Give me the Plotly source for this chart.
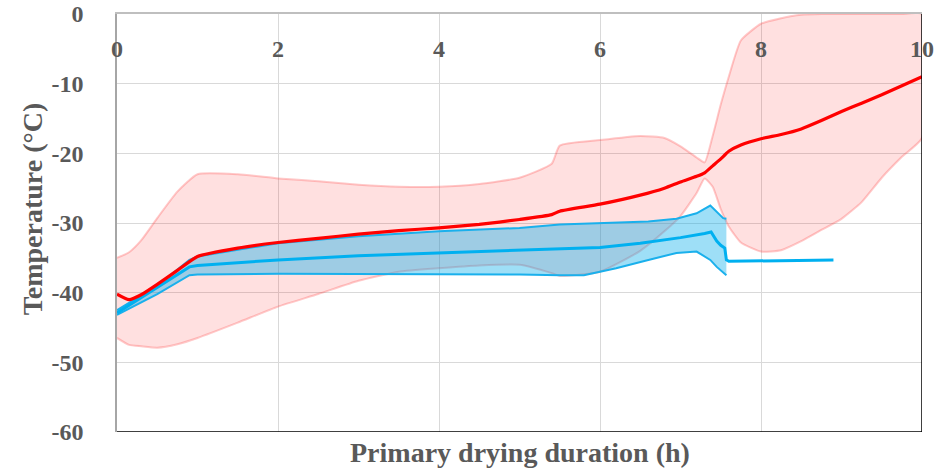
import plotly.graph_objects as go

# Product temperature during primary drying: mean and spread for two groups
red_x = [0, 0.15, 0.3, 0.5, 0.75, 1, 1.5, 2, 2.5, 3, 3.5, 4, 4.5, 5, 5.4, 5.5,
         6, 6.5, 6.8, 7, 7.2, 7.3, 7.4, 7.5, 7.6, 7.75, 8, 8.25, 8.5, 8.75,
         9, 9.25, 9.5, 9.75, 10]
red_mean = [-40.2, -41.0, -40.3, -38.8, -36.8, -34.8, -33.6, -32.8, -32.2, -31.6,
            -31.1, -30.7, -30.2, -29.5, -28.8, -28.3, -27.3, -26.0, -25.0, -24.1,
            -23.3, -22.8, -21.8, -20.8, -19.7, -18.8, -17.9, -17.3, -16.5, -15.3,
            -14.0, -12.8, -11.6, -10.3, -9.0]
red_upper = [-35.0, -34.2, -32.5, -29.3, -25.5, -23.0, -23.0, -23.6, -24.0, -24.5,
             -24.8, -24.8, -24.4, -23.5, -21.5, -18.9, -18.1, -17.5, -17.8, -19.0,
             -20.6, -21.3, -17.5, -13.0, -9.0, -3.8, -1.4, -0.6, -0.1, 0.0,
             0.0, 0.0, 0.0, 0.0, 0.0]
red_lower = [-46.5, -47.5, -47.7, -47.9, -47.4, -46.5, -44.3, -42.0, -40.2, -38.3,
             -37.0, -36.5, -36.1, -36.0, -37.2, -37.6, -37.0, -34.0, -31.2, -29.0,
             -25.7, -23.6, -24.8, -28.0, -30.5, -32.8, -34.1, -33.9, -32.6, -31.0,
             -29.4, -27.0, -23.5, -20.5, -17.8]

blue_x = [0, 0.5, 0.9, 1, 2, 3, 4, 5, 5.5, 5.8, 6, 6.2, 6.6, 6.95, 7.2, 7.37,
          7.45, 7.53, 7.57]
blue_upper = [-42.5, -39.0, -35.3, -34.8, -32.9, -31.9, -31.2, -30.7, -30.2, -30.1,
              -30.0, -30.0, -29.8, -29.4, -28.6, -27.5, -28.4, -29.3, -29.4]
blue_lower = [-43.2, -40.2, -37.5, -37.4, -37.3, -37.3, -37.4, -37.4, -37.5, -37.5,
              -37.0, -36.5, -35.3, -34.3, -34.1, -35.3, -36.3, -37.2, -37.5]

blue_mean_x = [0, 0.9, 1, 2, 3, 4, 5, 5.5, 6, 6.5, 7, 7.3, 7.38, 7.45, 7.5, 7.55,
               7.57, 7.6, 8.9]
blue_mean = [-42.9, -36.3, -36.1, -35.3, -34.7, -34.3, -33.9, -33.8, -33.5, -32.9,
             -32.1, -31.5, -31.3, -32.6, -33.2, -33.6, -35.3, -35.5, -35.3]

x_ticks = [0, 2, 4, 6, 8, 10]
y_ticks = [0, -10, -20, -30, -40, -50, -60]

FONT = "Liberation Serif"
GREY = "#595959"

fig = go.Figure()

# red spread band
fig.add_trace(go.Scatter(
    x=red_x + red_x[::-1], y=red_upper + red_lower[::-1],
    fill="toself", fillcolor="rgba(255,0,0,0.12)",
    line=dict(color="rgba(255,60,60,0.28)", width=2, shape="spline", smoothing=0.5),
    mode="lines", hoverinfo="skip", showlegend=False))

# blue spread band
fig.add_trace(go.Scatter(
    x=blue_x + blue_x[::-1], y=blue_upper + blue_lower[::-1],
    fill="toself", fillcolor="rgba(0,170,235,0.38)",
    line=dict(color="rgba(0,176,240,0)", width=0),
    mode="lines", hoverinfo="skip", showlegend=False))
for edge in (blue_upper, blue_lower):
    fig.add_trace(go.Scatter(
        x=blue_x, y=edge, mode="lines",
        line=dict(color="#1AB0EC", width=2),
        hoverinfo="skip", showlegend=False))

# mean curves
fig.add_trace(go.Scatter(
    x=blue_mean_x, y=blue_mean, mode="lines",
    line=dict(color="#00B0F0", width=3), showlegend=False))
fig.add_trace(go.Scatter(
    x=red_x, y=red_mean, mode="lines",
    line=dict(color="#FF0000", width=3.2, shape="spline", smoothing=0.5),
    showlegend=False))

fig.update_layout(
    width=937, height=469,
    margin=dict(l=117, r=15, t=14, b=37, autoexpand=False),
    paper_bgcolor="white", plot_bgcolor="white",
    font=dict(family=FONT, color=GREY, size=24),
    xaxis=dict(
        range=[0, 10], side="top", tickvals=x_ticks,
        ticktext=[str(v) for v in x_ticks],
        ticklabelposition="inside", ticklabeloverflow="allow",
        ticklabelstandoff=28, ticks="",
        tickfont=dict(family=FONT, size=24, color=GREY, weight="bold"),
        showgrid=True, gridcolor="#D9D9D9", gridwidth=1,
        showline=True, linecolor="#BFBFBF", linewidth=1.5,
        zeroline=False, automargin=False),
    yaxis=dict(
        range=[-60, 0], tickvals=y_ticks,
        ticktext=[str(v) for v in y_ticks],
        ticks="", ticklabelstandoff=27,
        tickfont=dict(family=FONT, size=24, color=GREY, weight="bold"),
        showgrid=True, gridcolor="#D9D9D9", gridwidth=1,
        showline=True, linecolor="#A6A6A6", linewidth=1.5,
        zeroline=False, automargin=False),
    shapes=[
        dict(type="line", xref="x", yref="y", x0=0, x1=10, y0=-60, y1=-60,
             line=dict(color="black", width=1.5), layer="above"),
        dict(type="line", xref="x", yref="y", x0=10, x1=10, y0=-60, y1=0,
             line=dict(color="black", width=1.5), layer="above"),
    ],
    annotations=[
        dict(text="<b>Primary drying duration (h)</b>", xref="paper", yref="paper",
             x=0.5, y=-0.05, xanchor="center", yanchor="middle", showarrow=False,
             font=dict(family=FONT, size=28, color=GREY)),
        dict(text="<b>Temperature (°C)</b>", xref="paper", yref="paper",
             x=-0.1056, y=0.535, xanchor="center", yanchor="middle", showarrow=False,
             textangle=-90, font=dict(family=FONT, size=28, color=GREY)),
    ],
)

fig.write_html("out.html")
